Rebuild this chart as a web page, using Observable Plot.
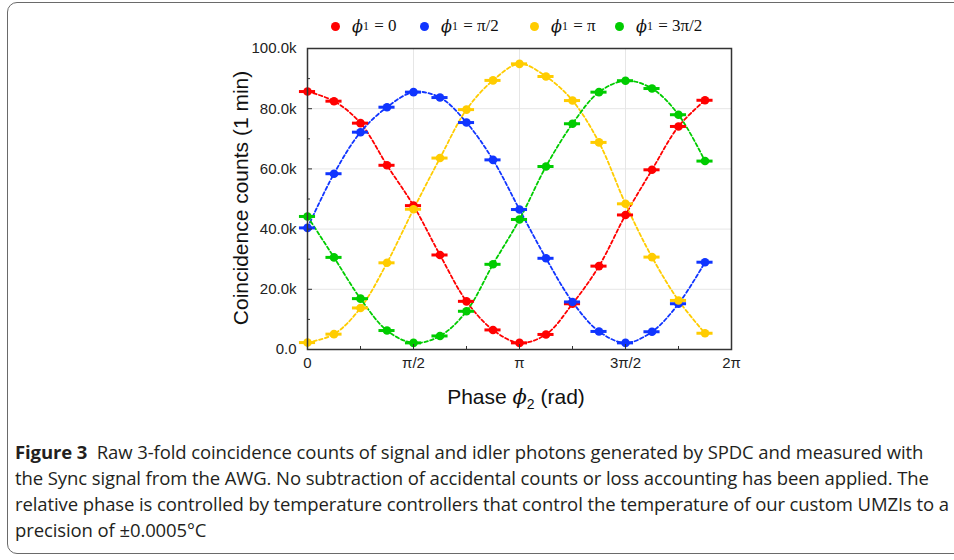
<!DOCTYPE html>
<html><head><meta charset="utf-8">
<script src="https://cdn.jsdelivr.net/npm/d3@7"></script>
<script src="https://cdn.jsdelivr.net/npm/@observablehq/plot@0.6"></script>
<style>
body{margin:0;background:#fff;width:954px;height:560px;overflow:hidden;position:relative;font-family:"Liberation Sans",Arial,sans-serif}
#border{position:absolute;left:7px;top:2px;width:1000px;height:552px;border:1.5px solid #6a6a6a;border-radius:10px 0 0 10px;box-sizing:border-box}
#legend{position:absolute;top:0;left:0;width:954px;height:40px}
.item{position:absolute;top:15px;height:22px;display:flex;align-items:center;font-family:"Liberation Serif",serif;font-size:17px;color:#111;white-space:nowrap}
.dot{width:9px;height:9px;border-radius:50%;margin-right:12px}
.phi{font-style:italic;font-family:"DejaVu Serif",serif;font-size:16px}
sub{font-size:12px;vertical-align:-4px;margin-right:1px}
#chart{position:absolute;top:40px;left:0}
#chart svg{overflow:visible}
#caption{position:absolute;left:15px;top:439px;font-family:"Open Sans",sans-serif;font-size:18.5px;line-height:26px;color:#231f20;white-space:nowrap;letter-spacing:-0.1px}
</style></head>
<body>
<div id="border"></div>
<div id="legend"></div>
<div id="chart"></div>
<div id="caption"><b>Figure 3</b>&nbsp; Raw 3-fold coincidence counts of signal and idler photons generated by SPDC and measured with<br>the Sync signal from the AWG. No subtraction of accidental counts or loss accounting has been applied. The<br>relative phase is controlled by temperature controllers that control the temperature of our custom UMZIs to a<br>precision of ±0.0005°C</div>
<script>
// phase φ2 in units of π
const phase = [0, 0.125, 0.25, 0.375, 0.5, 0.625, 0.75, 0.875, 1, 1.125, 1.25, 1.375, 1.5, 1.625, 1.75, 1.875];
// counts in thousands
const red    = [85.7, 82.5, 75.2, 61.2, 47.8, 31.4, 16.0, 6.5, 2.2, 5.0, 15.2, 27.7, 44.7, 59.7, 74.1, 82.8];
const blue   = [40.4, 58.4, 72.2, 80.5, 85.5, 83.7, 75.4, 63.0, 46.5, 30.3, 15.8, 6.0, 2.2, 5.9, 15.2, 29.0];
const yellow = [2.3, 5.1, 13.8, 28.8, 46.6, 63.6, 79.7, 89.4, 94.9, 90.7, 82.7, 68.8, 48.4, 30.7, 16.3, 5.4];
const green  = [44.2, 30.6, 16.9, 6.3, 2.2, 4.5, 12.7, 28.3, 43.2, 60.8, 75.0, 85.5, 89.3, 86.7, 78.0, 62.6];
const seriesValues = [red, blue, yellow, green];
const seriesLabels = ["0", "π/2", "π", "3π/2"];
const colors = ["#ff0000", "#1035ff", "#ffcc00", "#00cc00"];
const xTicks = [0, 0.5, 1, 1.5, 2];
const xTickLabels = ["0", "π/2", "π", "3π/2", "2π"];
const xMinor = [0.25, 0.75, 1.25, 1.75];
const yTicks = [0, 20, 40, 60, 80, 100];
const yMinor = [10, 30, 50, 70, 90];
const xErr = 0.038;

const data = seriesValues.flatMap((vals, s) => vals.map((v, j) => ({x: phase[j], y: v, s})));

// legend (layout positions)
const legendLeft = [331, 420, 530, 615];
const legend = document.getElementById("legend");
seriesLabels.forEach((lab, i) => {
  const it = document.createElement("div");
  it.className = "item";
  it.style.left = legendLeft[i] + "px";
  it.innerHTML = `<span class="dot" style="background:${colors[i]}"></span><span class="phi">ϕ</span><sub>1</sub>&nbsp;= ${lab}`;
  legend.appendChild(it);
});

const chart = Plot.plot({
  width: 954, height: 380,
  marginLeft: 307, marginRight: 223, marginTop: 8, marginBottom: 71,
  style: {fontFamily: "Liberation Sans, Arial, sans-serif", fontSize: "15px", color: "#222", background: "transparent"},
  x: {domain: [0, 2]},
  y: {domain: [0, 100]},
  marks: [
    Plot.gridY(yTicks.slice(1, -1), {stroke: "#e6e6e6", strokeOpacity: 1}),
    Plot.gridX(xTicks.slice(1, -1), {stroke: "#e6e6e6", strokeOpacity: 1}),
    Plot.line(data, {x: "x", y: "y", z: "s", stroke: d => colors[d.s], strokeWidth: 1.8, strokeDasharray: "3.5,2.5", curve: "catmull-rom"}),
    Plot.ruleY(data, {y: "y", x1: d => d.x - xErr, x2: d => d.x + xErr, stroke: d => colors[d.s], strokeWidth: 3}),
    Plot.dot(data, {x: "x", y: "y", r: 4.3, fill: d => colors[d.s], stroke: "none"}),
    Plot.axisY(yTicks, {tickSize: -5, tickPadding: 16, label: null, tickFormat: d => d === 0 ? "0.0" : d.toFixed(1) + "k", stroke: "#333"}),
    Plot.axisY(yMinor, {tickSize: -3, text: null, label: null, stroke: "#333"}),
    Plot.axisX(xTicks, {tickSize: -5, tickPadding: 13, label: null, tickFormat: (d, i) => xTickLabels[i], stroke: "#333"}),
    Plot.axisX(xMinor, {tickSize: -3, text: null, label: null, stroke: "#333"}),
    Plot.frame({stroke: "#333", strokeWidth: 1.5})
  ]
});
document.getElementById("chart").appendChild(chart);

const svg = d3.select(chart);
// y axis title
svg.append("text")
  .attr("transform", "translate(248,158) rotate(-90)")
  .attr("text-anchor", "middle")
  .attr("font-size", 21).attr("fill", "#111")
  .text("Coincidence counts (1 min)");
// x axis title
const xt = svg.append("text")
  .attr("x", 516).attr("y", 364)
  .attr("text-anchor", "middle")
  .attr("font-size", 21).attr("fill", "#111");
xt.append("tspan").text("Phase ");
xt.append("tspan").attr("font-family", "DejaVu Serif, serif").attr("font-style", "italic").text("ϕ");
xt.append("tspan").attr("font-size", 14).attr("dy", 5).text("2");
xt.append("tspan").attr("dy", -5).text(" (rad)");
</script>
</body></html>
